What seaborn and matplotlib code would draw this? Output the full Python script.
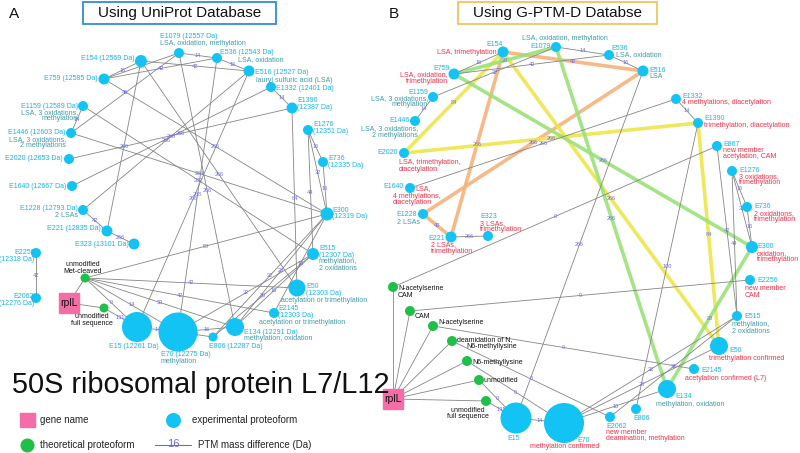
import matplotlib
matplotlib.use('Agg')
import matplotlib.pyplot as plt
from matplotlib.patches import Rectangle
import seaborn as sns

sns.set_theme(style="white")
plt.rcParams['font.family'] = ['Liberation Sans', 'DejaVu Sans']

CYAN = '#12c3f3'
CYAN_TXT = '#18b4e6'
TEAL_TXT = '#3f9aa6'
RED_TXT = '#f0334e'
GREEN = '#1fbf4a'
PINK = '#f46da6'
EDGE = '#858585'
EDGE_TXT = '#6c6cf0'
EDGE_COLORS = {'g': EDGE, 'o': '#f7b27a', 'y': '#eee64a', 'l': '#9ae27a'}
TXT_COLORS = {'c': CYAN_TXT, 't': TEAL_TXT, 'r': RED_TXT, 'k': '#111111'}

# ---------------- panel A (UniProt) ----------------
# node: (x, y, radius)  -- layout in figure pixels
nodes_a = {
    'E154': (141, 61, 6), 'E1079': (179, 53, 5), 'E536': (217, 58, 5),
    'E516': (249, 71, 5.5), 'E759': (104, 79, 5.5), 'E1332': (271, 87, 5),
    'E1390': (292, 108, 5.5), 'E1159': (83, 106, 5), 'E1446': (71, 133, 5),
    'E1276': (308, 130, 5), 'E736': (323, 162, 5), 'E2020': (69, 159, 5),
    'E1640': (72, 186, 5), 'E300': (327, 214, 6.5), 'E1228': (83, 210, 5),
    'E221': (107, 231, 5.5), 'E323': (134, 244, 5.5), 'E515': (313, 254, 6),
    'E2256': (36, 253, 5), 'E50': (297, 288, 8.5), 'E2062': (36, 298, 5),
    'E2145': (274, 313, 5), 'E15': (137, 327, 15), 'E70': (178, 332, 19.5),
    'E134': (235, 327, 9), 'E806': (213, 337, 4.5),
}
theo_a = {'Met-cleaved': (85, 278, 4.5), 'full': (104, 308, 4.5)}
gene_a = (69, 303)

edges_a = [
    ('E759', 'E154', '16'), ('E759', 'E1079', '28'), ('E154', 'E516', '42'),
    ('E1079', 'E536', '14'), ('E536', 'E516', '16'), ('E759', 'E536', '42'),
    ('E1159', 'E1446', '14'), ('E1446', 'E1079', '46'), ('E1332', 'E1390', '14'),
    ('E1276', 'E736', '16'), ('E736', 'E300', '16'), ('E1276', 'E300', '32'),
    ('E1276', 'E515', '44'), ('E1390', 'E50', '84'), ('E2256', 'E2062', '42'),
    ('E1228', 'E221', '42'), ('E221', 'E323', '266'), ('E2020', 'E1390', '266'),
    ('E1640', 'E1332', '266'), ('E1228', 'E516', '266'), ('E221', 'E154', '266'),
    ('E759', 'E300', '266'), ('E154', 'E50', '266'), ('E1079', 'E134', '266'),
    ('E516', 'E15', '266'), ('E1446', 'E300', '284'), ('E1159', 'E515', '282'),
    ('E536', 'E70', '268'),
    ('Met-cleaved', 'E15', '0'), ('Met-cleaved', 'E70', '14'),
    ('Met-cleaved', 'E134', '30'), ('Met-cleaved', 'E50', '42'),
    ('Met-cleaved', 'E2145', '42'), ('Met-cleaved', 'E300', '58'),
    ('full', 'E15', '131'), ('E15', 'E70', '14'), ('E70', 'E134', '16'),
    ('E70', 'E806', '12'), ('E806', 'E300', '32'), ('E134', 'E300', '28'),
    ('E2145', 'E300', '16'), ('E134', 'E515', '16'), ('E806', 'E515', '20'),
    ('E70', 'E515', '32'),
]

labels_a = [
    (135, 59, 'right', [('E154 (12569 Da)', 'c')]),
    (160, 37, 'left', [('E1079 (12557 Da)', 'c'), ('LSA, oxidation, methylation', 't')]),
    (220, 52, 'left', [('E536 (12543 Da)', 'c')]),
    (238, 60, 'left', [('LSA, oxidation', 't')]),
    (255, 72, 'left', [('E516 (12527 Da)', 'c')]),
    (256, 80, 'left', [('lauryl sulfuric acid (LSA)', 't')]),
    (276, 88, 'left', [('E1332 (12401 Da)', 'c')]),
    (297, 101, 'left', [('E1390', 'c'), ('(12387 Da)', 'c')]),
    (313, 125, 'left', [('E1276', 'c'), ('(12351 Da)', 'c')]),
    (328, 159, 'left', [('E736', 'c'), ('(12335 Da)', 'c')]),
    (332, 210, 'left', [('E300', 'c'), ('(12319 Da)', 'c')]),
    (319, 249, 'left', [('E515', 'c'), ('(12307 Da)', 'c'), ('methylation,', 't'), ('2 oxidations', 't')]),
    (306, 287, 'left', [('E50', 'c'), ('(12303 Da)', 'c')]),
    (281, 301, 'left', [('acetylation or trimethylation', 't')]),
    (278, 309, 'left', [('E2145', 'c'), ('(12303 Da)', 'c')]),
    (259, 323, 'left', [('acetylation or trimethylation', 't')]),
    (244, 332, 'left', [('E134 (12291 Da)', 'c'), ('methylation, oxidation', 't')]),
    (209, 346, 'left', [('E806 (12287 Da)', 'c')]),
    (161, 355, 'left', [('E70 (12275 Da)', 'c'), ('methylation', 't')]),
    (134, 346, 'center', [('E15 (12261 Da)', 'c')]),
    (34, 297, 'right', [('E2062', 'c'), ('(12276 Da)', 'c')]),
    (34.5, 253, 'right', [('E2256', 'c'), ('(12318 Da)', 'c')]),
    (129, 245, 'right', [('E323 (13101 Da)', 'c')]),
    (101, 229, 'right', [('E221 (12835 Da)', 'c')]),
    (78, 209, 'right', [('E1228 (12793 Da)', 'c'), ('2 LSAs', 't')]),
    (66, 186, 'right', [('E1640 (12667 Da)', 'c')]),
    (63, 159, 'right', [('E2020 (12653 Da)', 'c')]),
    (66, 133, 'right', [('E1446 (12603 Da)', 'c'), ('LSA, 3 oxidations,', 't'), ('2 methylations', 't')]),
    (78, 106, 'right', [('E1159 (12589 Da)', 'c'), ('LSA, 3 oxidations,', 't'), ('methylation', 't')]),
    (98, 79, 'right', [('E759 (12585 Da)', 'c')]),
    (83, 265, 'center', [('unmodified', 'k'), ('Met-cleaved', 'k')]),
    (92, 317, 'center', [('unmodified', 'k'), ('full sequence', 'k')]),
]

# ---------------- panel B (G-PTM-D) ----------------
nodes_b = {
    'E154': (503, 52, 5.5), 'E1079': (556, 47, 5), 'E536': (609, 55, 5),
    'E516': (643, 71, 5.5), 'E759': (454, 74, 5.5), 'E1159': (433, 97, 5),
    'E1446': (415, 121, 5), 'E2020': (404, 153, 5), 'E1640': (410, 188, 5),
    'E1228': (423, 214, 5), 'E221': (451, 237, 5.5), 'E323': (488, 236, 5),
    'E1332': (676, 99, 5), 'E1390': (698, 123, 5), 'E867': (717, 146, 5),
    'E1276': (732, 171, 5), 'E736': (747, 207, 5), 'E300': (752, 247, 6),
    'E2256': (750, 280, 5), 'E515': (737, 316, 5), 'E50': (719, 346, 9),
    'E2145': (694, 369, 5), 'E134': (667, 389, 9), 'E806': (636, 409, 5),
    'E2062': (610, 417, 5), 'E15': (516, 418, 15.5), 'E70': (564, 423, 20),
}
theo_b = {
    'NAcS_CAM': (393, 287, 5), 'CAM': (410, 311, 5), 'NAcS': (433, 326, 5),
    'deam': (452, 341, 5), 'N6': (467, 361, 5), 'unmod': (479, 380, 5),
    'full': (486, 401, 5),
}
gene_b = (393, 399)

edges_b = [
    ('E154', 'E759', '16', 'g'), ('E1079', 'E536', '14', 'g'),
    ('E536', 'E516', '16', 'g'), ('E759', 'E536', '42', 'g'),
    ('E1159', 'E1079', '32', 'g'), ('E1159', 'E1446', '14', 'g'),
    ('E1332', 'E1390', '14', 'g'), ('E1640', 'E1332', '266', 'g'),
    ('E221', 'E323', '266', 'g'), ('E1276', 'E736', '16', 'g'),
    ('E736', 'E300', '16', 'g'), ('E1276', 'E300', '32', 'g'),
    ('E1276', 'E515', '44', 'g'), ('E516', 'E15', '266', 'g'),
    ('E1390', 'E806', '100', 'g'), ('E867', 'E515', '42', 'g'),
    ('NAcS_CAM', 'E867', '0', 'g'), ('CAM', 'E2256', '0', 'g'),
    ('NAcS', 'E2145', '0', 'g'), ('deam', 'E2062', '0', 'g'),
    ('N6', 'E70', '0', 'g'), ('unmod', 'E15', '0', 'g'),
    ('full', 'E15', '131', 'g'), ('E15', 'E70', '14', 'g'),
    ('E70', 'E134', '16', 'g'), ('E70', 'E515', '32', 'g'),
    ('E70', 'E50', '28', 'g'), ('E2062', 'E515', '31', 'g'),
    ('E154', 'E516', '42', 'o'), ('E154', 'E221', '266', 'o'),
    ('E1228', 'E516', '266', 'o'), ('E1228', 'E221', '42', 'o'),
    ('E154', 'E2020', '84', 'y'), ('E2020', 'E1390', '266', 'y'),
    ('E154', 'E50', '266', 'y'), ('E1390', 'E50', '84', 'y'),
    ('E759', 'E1079', '28', 'l'), ('E759', 'E300', '266', 'l'),
    ('E1079', 'E134', '266', 'l'), ('E300', 'E134', '28', 'l'),
]

labels_b = [
    (495, 44, 'center', [('E154', 'c')]),
    (497, 52, 'right', [('LSA, trimethylation', 'r')]),
    (522, 39, 'left', [('LSA, oxidation, methylation', 't')]),
    (551, 46, 'right', [('E1079', 'c')]),
    (611, 48, 'left', [('E536', 'c')]),
    (616, 55, 'left', [('LSA, oxidation', 't')]),
    (649, 70, 'left', [('E516', 'c'), ('LSA', 't')]),
    (450, 68, 'right', [('E759', 'c')]),
    (448, 75, 'right', [('LSA, oxidation,', 'r'), ('trimethylation', 'r')]),
    (428, 92, 'right', [('E1159', 'c'), ('LSA, 3 oxidations,', 't'), ('methylation', 't')]),
    (410, 121, 'right', [('E1446', 'c')]),
    (418, 129, 'right', [('LSA, 3 oxidations,', 't'), ('2 methylations', 't')]),
    (398, 152, 'right', [('E2020', 'c')]),
    (399, 163, 'left', [('LSA, trimethylation,', 'r'), ('diacetylation', 'r')]),
    (404, 187, 'right', [('E1640', 'c')]),
    (415, 189, 'left', [('LSA,', 'r')]),
    (393, 196, 'left', [('4 methylations,', 'r'), ('diacetylation', 'r')]),
    (417, 214, 'right', [('E1228', 'c')]),
    (397, 222, 'left', [('2 LSAs', 't')]),
    (445, 239, 'right', [('E221', 'c')]),
    (431, 245, 'left', [('2 LSAs,', 'r'), ('trimethylation', 'r')]),
    (480, 217, 'left', [('E323', 'c'), ('3 LSAs,', 'r'), ('trimethylation', 'r')]),
    (682, 96, 'left', [('E1332', 'c'), ('4 methylations, diacetylation', 'r')]),
    (704, 119, 'left', [('E1390', 'c'), ('trimethylation, diacetylation', 'r')]),
    (723, 144, 'left', [('E867', 'c'), ('new member', 'r'), ('acetylation, CAM', 'r')]),
    (739, 170, 'left', [('E1276', 'c'), ('3 oxidations,', 'r'), ('trimethylation', 'r')]),
    (754, 207, 'left', [('E736', 'c'), ('2 oxidations,', 'r'), ('trimethylation', 'r')]),
    (757, 247, 'left', [('E300', 'c'), ('oxidation,', 'r'), ('trimethylation', 'r')]),
    (757, 281, 'left', [('E2256', 'c')]),
    (745, 289, 'left', [('new member', 'r'), ('CAM', 'r')]),
    (744, 317, 'left', [('E515', 'c')]),
    (732, 325, 'left', [('methylation,', 't'), ('2 oxidations', 't')]),
    (729, 351, 'left', [('E50', 'c')]),
    (709, 359, 'left', [('trimethylation confirmed', 'r')]),
    (701, 371, 'left', [('E2145', 'c')]),
    (685, 379, 'left', [('acetylation confirmed (L7)', 'r')]),
    (675, 396, 'left', [('E134', 'c')]),
    (656, 404, 'left', [('methylation, oxidation', 't')]),
    (633, 418, 'left', [('E806', 'c')]),
    (606, 426, 'left', [('E2062', 'c'), ('new member', 'r'), ('deamination, methylation', 'r')]),
    (514, 438, 'center', [('E15', 'c')]),
    (577, 441, 'left', [('E70', 'c')]),
    (530, 447, 'left', [('methylation confirmed', 'r')]),
    (398, 289, 'left', [('N-acetylserine', 'k'), ('CAM', 'k')]),
    (415, 316, 'left', [('CAM', 'k')]),
    (438, 323, 'left', [('N-acetylserine', 'k')]),
    (457, 340, 'left', [('deamidation of N,', 'k')]),
    (466, 346, 'left', [('N6-methyllysine', 'k')]),
    (472, 362, 'left', [('N6-methyllysine', 'k')]),
    (483, 381, 'left', [('unmodified', 'k')]),
    (468, 410, 'center', [('unmodified', 'k'), ('full sequence', 'k')]),
]


def px2s(r):
    # radius in pixels -> scatter marker area (pt^2) at 100 dpi
    return (2 * r * 0.72) ** 2


def draw_panel(ax, nodes, theo, gene, edges, labels):
    allpos = dict(nodes)
    allpos.update(theo)
    # gene -> theoretical links
    for k, (x, y, r) in theo.items():
        ax.plot([gene[0], x], [gene[1], y], color=EDGE, lw=0.6, zorder=1)
    for e in edges:
        a, b, lab = e[0], e[1], e[2]
        kind = e[3] if len(e) > 3 else 'g'
        x0, y0 = allpos[a][:2]
        x1, y1 = allpos[b][:2]
        if kind == 'g':
            ax.plot([x0, x1], [y0, y1], color=EDGE, lw=0.6, zorder=1)
        else:
            ax.plot([x0, x1], [y0, y1], color=EDGE_COLORS[kind], lw=2.6,
                    alpha=0.9, zorder=0.5, solid_capstyle='round')
        ax.text((x0 + x1) / 2, (y0 + y1) / 2, lab, color=EDGE_TXT, fontsize=4,
                ha='center', va='center', zorder=2)
    xs = [v[0] for v in nodes.values()]
    ys = [v[1] for v in nodes.values()]
    ss = [px2s(v[2]) for v in nodes.values()]
    sns.scatterplot(x=xs, y=ys, s=ss, color=CYAN, linewidth=0, ax=ax, zorder=3)
    xs = [v[0] for v in theo.values()]
    ys = [v[1] for v in theo.values()]
    ss = [px2s(v[2]) for v in theo.values()]
    sns.scatterplot(x=xs, y=ys, s=ss, color=GREEN, linewidth=0, ax=ax, zorder=3)
    ax.add_patch(Rectangle((gene[0] - 10, gene[1] - 10), 20, 20, color=PINK, zorder=3))
    ax.text(gene[0], gene[1], 'rplL', fontsize=7.5, ha='center', va='center', color='#111111', zorder=4)
    for x, y, ha, lines in labels:
        for i, (t, c) in enumerate(lines):
            ax.text(x, y + i * 6.4, t, color=TXT_COLORS[c], fontsize=5,
                    ha=ha, va='center', zorder=4)


fig = plt.figure(figsize=(8, 4.53), dpi=100)
ax = fig.add_axes([0, 0, 1, 1])
ax.set_xlim(0, 800)
ax.set_ylim(453, 0)
ax.axis('off')

draw_panel(ax, nodes_a, theo_a, gene_a, edges_a, labels_a)
draw_panel(ax, nodes_b, theo_b, gene_b, edges_b, labels_b)

# headers
ax.text(9, 14, 'A', fontsize=11, ha='left', va='center', color='#111111')
ax.text(389, 14, 'B', fontsize=11, ha='left', va='center', color='#111111')
ax.add_patch(Rectangle((83, 2), 193, 22, fill=False, edgecolor='#2e8fd1', lw=1.3))
ax.text(179.5, 13.5, 'Using UniProt Database', fontsize=11, ha='center', va='center', color='#111111')
ax.add_patch(Rectangle((458, 2), 199, 22, fill=False, edgecolor='#f7c35c', lw=1.3))
ax.text(557.5, 13.5, 'Using G-PTM-D Databse', fontsize=11, ha='center', va='center', color='#111111')

ax.text(12, 385, '50S ribosomal protein L7/L12', fontsize=20.8, ha='left', va='center', color='#111111')

# legend
ax.add_patch(Rectangle((20, 413), 15, 14, color=PINK))
ax.text(40, 420, 'gene name', fontsize=7, ha='left', va='center', color='#222222')
sns.scatterplot(x=[27], y=[445], s=px2s(7), color=GREEN, linewidth=0, ax=ax)
ax.text(40, 445, 'theoretical proteoform', fontsize=7, ha='left', va='center', color='#222222')
sns.scatterplot(x=[173], y=[420], s=px2s(7.5), color=CYAN, linewidth=0, ax=ax)
ax.text(192, 420, 'experimental proteoform', fontsize=7, ha='left', va='center', color='#222222')
ax.plot([155, 191], [445, 445], color='#6b6bc8', lw=0.8)
ax.text(173, 444, '16', fontsize=8, ha='center', va='center', color='#6b6bd8')
ax.text(198, 445, 'PTM mass difference (Da)', fontsize=7, ha='left', va='center', color='#222222')

fig.savefig('out.png', dpi=100)
